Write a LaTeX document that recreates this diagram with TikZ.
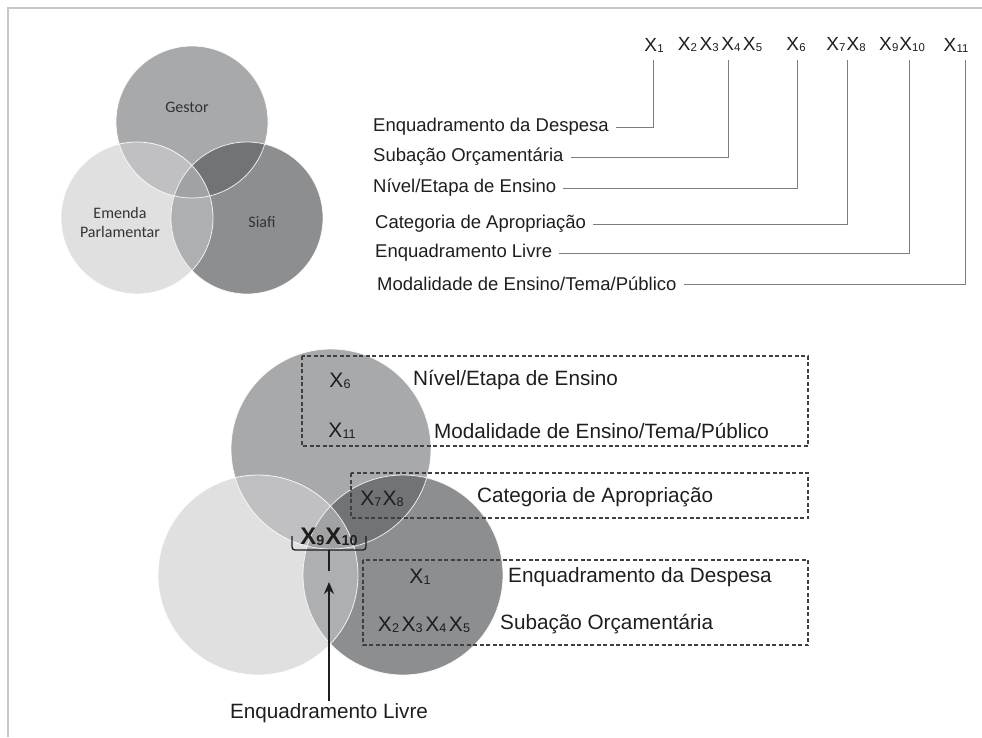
\documentclass[tikz,border=0pt]{standalone}
\usepackage{fontspec}
\usepackage{graphicx}
\setmainfont{Liberation Sans}
\newfontfamily\vennfont{Carlito}
\usetikzlibrary{arrows.meta}

% region colours of the three-set diagrams
\definecolor{cTop}{RGB}{168,169,171}
\definecolor{cLeft}{RGB}{224,224,225}
\definecolor{cRight}{RGB}{141,142,144}
\definecolor{cTL}{RGB}{192,192,194}
\definecolor{cTR}{RGB}{114,115,118}
\definecolor{cLR}{RGB}{174,175,177}
\definecolor{cAll}{RGB}{161,162,164}
\definecolor{frameGray}{RGB}{200,200,200}
\definecolor{connGray}{RGB}{125,125,125}
\definecolor{ink}{RGB}{30,30,30}

% variable name with a small index
\newcommand\xs[1]{X\kern0.2pt\raisebox{-0.1ex}{\scalebox{0.6}{#1}}}

% three overlapping discs: top, left, right centre and radius
\newcommand\drawvenn[4]{%
  \fill[cTop] #1 circle[radius=#4];
  \fill[cLeft] #2 circle[radius=#4];
  \fill[cRight] #3 circle[radius=#4];
  \begin{scope}\clip #2 circle[radius=#4]; \fill[cLR] #3 circle[radius=#4];\end{scope}
  \begin{scope}\clip #1 circle[radius=#4]; \fill[cTL] #2 circle[radius=#4]; \fill[cTR] #3 circle[radius=#4];\end{scope}
  \begin{scope}\clip #1 circle[radius=#4]; \clip #2 circle[radius=#4]; \fill[cAll] #3 circle[radius=#4];\end{scope}
  \draw[vennedge] #1 circle[radius=#4] #2 circle[radius=#4] #3 circle[radius=#4];
}

\tikzset{
  frame/.style={draw=frameGray, line width=1.4pt},
  vennedge/.style={draw=white, line width=0.8pt, opacity=0.85},
  vennlab/.style={font=\vennfont\fontsize{16}{19}\selectfont, text=black!80, align=center, inner sep=0pt},
  toplab/.style={font=\fontsize{18.5}{22}\selectfont, text=ink, anchor=west, inner xsep=7pt, inner ysep=0pt},
  topx/.style={font=\fontsize{19}{22}\selectfont, text=ink, inner sep=0pt},
  conn/.style={draw=connGray, line width=0.8pt},
  botlab/.style={font=\fontsize{20.7}{24}\selectfont, text=ink, anchor=west, inner sep=0pt},
  botx/.style={font=\fontsize{21}{24}\selectfont, text=ink, inner sep=0pt},
  dashbox/.style={draw=black!75, line width=1.1pt, dash pattern=on 4pt off 2.5pt},
  bracket/.style={draw=ink, line width=1.3pt, rounded corners=3pt},
  pointer/.style={draw=ink, line width=2.8pt, -{Stealth[length=12pt,width=10pt]}},
}

\begin{document}
\begin{tikzpicture}[x=1pt,y=-1pt]
\useasboundingbox (0,0) rectangle (982,737);
\draw[frame] (982,8) -- (8,8) -- (8,737);

% ---- upper diagram: sources of the data
\drawvenn{(192,122)}{(137,218)}{(247,218)}{76pt}
\node[vennlab] (gestor) at (187,107) {Gestor};
\node[vennlab] (emenda) at (120,222) {Emenda\\Parlamentar};
\node[vennlab] (siafi) at (262,222) {Siafi};

% ---- variable index row
\node[topx] (x1) at (654,45) {\xs{1}};
\node[topx] (x25) at (720,45) {\xs{2}\kern2.5pt\xs{3}\kern2.5pt\xs{4}\kern2.5pt\xs{5}};
\node[topx] (x6) at (796,45) {\xs{6}};
\node[topx] (x78) at (846,45) {\xs{7}\kern1pt\xs{8}};
\node[topx] (x910) at (902,45) {\xs{9}\kern1pt\xs{10}};
\node[topx] (x11) at (956,45) {\xs{11}};

\coordinate (t1) at (653,60);
\coordinate (t2) at (728,60);
\coordinate (t3) at (797,60);
\coordinate (t4) at (847,60);
\coordinate (t5) at (909,60);
\coordinate (t6) at (965,60);

\node[toplab] (l1) at (366,127) {Enquadramento da Despesa};
\node[toplab] (l2) at (366,157) {Subação Orçamentária};
\node[toplab] (l3) at (366,188) {Nível/Etapa de Ensino};
\node[toplab] (l4) at (368,224) {Categoria de Apropriação};
\node[toplab] (l5) at (368,253) {Enquadramento Livre};
\node[toplab] (l6) at (370,284) {Modalidade de Ensino/Tema/Público};

\draw[conn] (t1) |- (l1);
\draw[conn] (t2) |- (l2);
\draw[conn] (t3) |- (l3);
\draw[conn] (t4) |- (l4);
\draw[conn] (t5) |- (l5);
\draw[conn] (t6) |- (l6);

% ---- lower diagram: variables placed by source
\drawvenn{(331,449)}{(258,575)}{(403,575)}{100pt}

\draw[dashbox] (302,356) rectangle (808,446);
\draw[dashbox] (351,473) rectangle (808,518);
\draw[dashbox] (363,560) rectangle (808,645);

\node[botx] (b6) at (340,381) {\xs{6}};
\node[botlab] (n6) at (413,380) {Nível/Etapa de Ensino};
\node[botx] (b11) at (342,431) {\xs{11}};
\node[botlab] (n11) at (434,431) {Modalidade de Ensino/Tema/Público};
\node[botx] (b78) at (382,499) {\xs{7}\kern1pt\xs{8}};
\node[botlab] (n78) at (477,497) {Categoria de Apropriação};
\node[botx] (b1) at (420,577) {\xs{1}};
\node[botlab] (n1) at (508,577) {Enquadramento da Despesa};
\node[botx] (b25) at (424,625) {\xs{2}\kern2.5pt\xs{3}\kern2.5pt\xs{4}\kern2.5pt\xs{5}};
\node[botlab] (n25) at (500,624) {Subação Orçamentária};

\node[botx, font=\bfseries\fontsize{24}{26}\selectfont] (b910) at (329,537) {\xs{9}\kern1pt\xs{10}};
\draw[bracket] (292,536) -- (292,550) -- (366,550) -- (366,536);
\coordinate (stem) at (329,550);
\draw[draw=ink, line width=1.3pt] (stem) -- (329,571);

\node[font=\fontsize{20.7}{24}\selectfont, text=ink, inner sep=2pt] (livre) at (329,713) {Enquadramento Livre};
\coordinate (tip) at (329,582);
\draw[pointer] (livre.north) -- (tip);
\end{tikzpicture}
\end{document}
